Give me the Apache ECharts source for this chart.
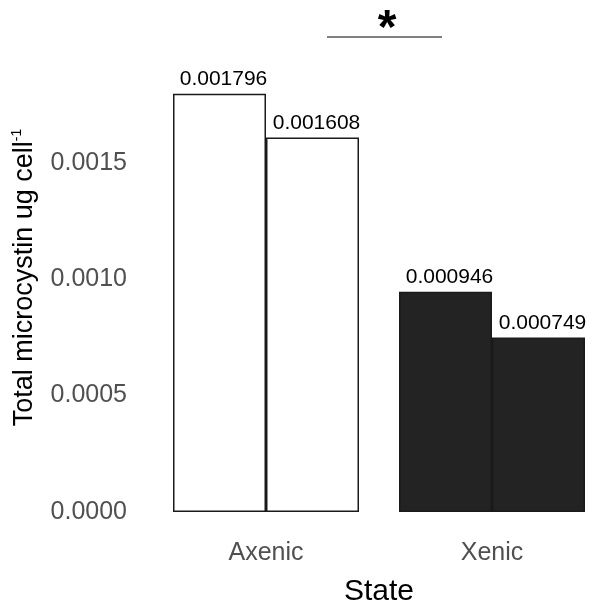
<!DOCTYPE html>
<html>
<head>
<meta charset="utf-8">
<script src="https://cdn.jsdelivr.net/npm/echarts@6/dist/echarts.min.js"></script>
<style>html,body{margin:0;padding:0;background:#fff}#c{width:592px;height:604px}</style>
</head>
<body>
<div id="c"></div>
<script>
const categories = ['Axenic', 'Xenic'];
const replicate1 = [0.001796, 0.000946];
const replicate2 = [0.001608, 0.000749];
const yTicks = [0, 0.0005, 0.0010, 0.0015];
const fillColors = ['#ffffff', '#232323'];
const labelText = ['0.001796', '0.000946', '0.001608', '0.000749'];

const chart = echarts.init(document.getElementById('c'));
const font = 'Liberation Sans, Arial, sans-serif';

function makeSeries(vals, offset) {
  return {
    type: 'bar',
    barWidth: 93,
    barGap: '0%',
    clip: false,
    data: vals.map((v, i) => ({
      value: v,
      itemStyle: { color: fillColors[i], borderColor: '#1a1a1a', borderWidth: 1.5 },
      label: { formatter: labelText[offset + i] }
    })),
    label: {
      show: true, position: 'top', distance: 4, offset: [4, 0],
      color: '#000', fontSize: 21, fontFamily: font
    }
  };
}

chart.setOption({
  animation: false,
  backgroundColor: '#fff',
  grid: { left: 266, top: 23, bottom: 92, width: 226, outerBoundsMode: 'none', containLabel: false },
  xAxis: {
    type: 'category',
    data: categories,
    boundaryGap: false,
    axisLine: { show: false }, axisTick: { show: false },
    axisLabel: { color: '#505050', fontSize: 25, fontFamily: font, margin: 29 },
    name: 'State', nameLocation: 'middle', nameGap: 65,
    nameTextStyle: { color: '#000', fontSize: 30, fontFamily: font }
  },
  yAxis: {
    type: 'value', min: 0, max: 0.0021, interval: 0.0005,
    splitLine: { show: false }, axisLine: { show: false }, axisTick: { show: false },
    axisLabel: {
      color: '#505050', fontSize: 25, fontFamily: font, margin: 139, padding: [5, 0, 0, 0],
      formatter: v => yTicks.some(t => Math.abs(t - v) < 1e-9) ? v.toFixed(4) : ''
    },
    name: '{a|Total microcystin ug cell}{s|-1}',
    nameLocation: 'middle', nameGap: 226,
    nameTextStyle: {
      padding: [0, 20, 0, 0],
      rich: {
        a: { fontSize: 27, color: '#000', fontFamily: font, lineHeight: 30 },
        s: { fontSize: 14, color: '#000', fontFamily: font, verticalAlign: 'top', lineHeight: 30, padding: [0, 0, 12, 0] }
      }
    }
  },
  series: [makeSeries(replicate1, 0), makeSeries(replicate2, 2)],
  graphic: [
    { type: 'line', shape: { x1: 327, y1: 37, x2: 442, y2: 37 }, style: { stroke: '#000', lineWidth: 1 } },
    { type: 'text', x: 387, y: 30, style: { text: '*', fontSize: 48, fontWeight: 'bold', fontFamily: font, fill: '#000', align: 'center', verticalAlign: 'middle' } }
  ]
});
</script>
</body>
</html>
